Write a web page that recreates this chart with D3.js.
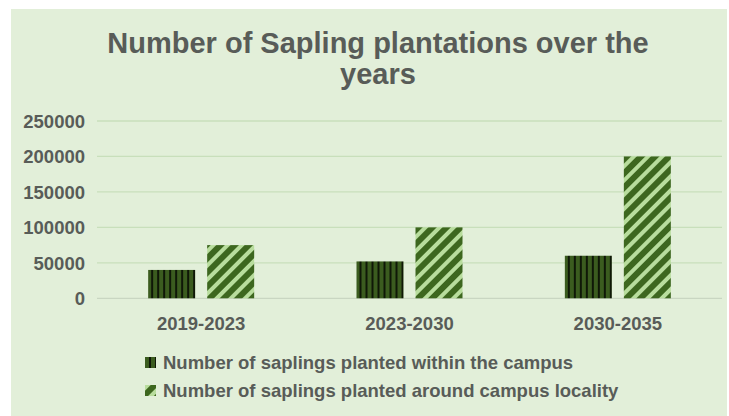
<!DOCTYPE html>
<html>
<head>
<meta charset="utf-8">
<script src="https://cdn.jsdelivr.net/npm/d3@7/dist/d3.min.js"></script>
<style>
  html, body { margin: 0; padding: 0; background: #ffffff; }
  svg { display: block; }
  text { font-family: "Liberation Sans", Arial, sans-serif; }
</style>
</head>
<body>
<svg id="chart" width="729" height="416"></svg>
<script>
// Sapling plantation counts per period
const categories = ["2019-2023", "2023-2030", "2030-2035"];
const withinCampus = [40000, 52000, 60000];
const aroundLocality = [75000, 100000, 200000];
const seriesNames = [
  "Number of saplings planted within the campus",
  "Number of saplings planted around campus locality"
];
const yTicks = [0, 50000, 100000, 150000, 200000, 250000];
const titleLines = ["Number of Sapling plantations over the", "years"];

const W = 729, H = 416;
const textColor = "#585c58";
const svg = d3.select("#chart");
const defs = svg.append("defs");

// Vertical black stripes over dark green
const pv = defs.append("pattern")
  .attr("id", "vstripe").attr("patternUnits", "userSpaceOnUse")
  .attr("width", 6).attr("height", 6);
pv.append("rect").attr("width", 6).attr("height", 6).attr("fill", "#3b5c1f");
pv.append("rect").attr("x", 4).attr("width", 2).attr("height", 6).attr("fill", "#0f1807");

// Wide upward diagonal, dark green with light green bands
const pd = defs.append("pattern")
  .attr("id", "dstripe").attr("patternUnits", "userSpaceOnUse")
  .attr("width", 10).attr("height", 10)
  .attr("patternTransform", "rotate(45)");
pd.append("rect").attr("width", 10).attr("height", 10).attr("fill", "#3d671f");
pd.append("rect").attr("width", 4).attr("height", 10).attr("fill", "#b8dd9d");

// Panel background
svg.append("rect").attr("x", 11).attr("y", 9).attr("width", W - 13).attr("height", H - 9)
  .attr("fill", "#e2efd9");

// Title
svg.append("g").selectAll("text").data(titleLines).join("text")
  .attr("x", 378).attr("y", (d, i) => 53 + i * 31)
  .attr("text-anchor", "middle")
  .attr("font-size", 29).attr("font-weight", "bold")
  .attr("fill", textColor)
  .text(d => d);

const x0 = d3.scaleBand().domain(categories).range([97, 722]);
const y = d3.scaleLinear().domain([0, 250000]).range([298.3, 121]);

// Gridlines
svg.append("g").selectAll("line").data(yTicks).join("line")
  .attr("x1", 97).attr("x2", 722)
  .attr("y1", d => y(d)).attr("y2", d => y(d))
  .attr("stroke", d => d === 0 ? "#c9d6c2" : "#c8dfbb")
  .attr("stroke-width", 1.3);

// Y axis labels
const yAxis = d3.axisLeft(y).tickValues(yTicks).tickSize(0).tickPadding(0)
  .tickFormat(d3.format("d"));
const gy = svg.append("g").attr("transform", "translate(85,0)").call(yAxis);
gy.select(".domain").remove();
gy.selectAll("text")
  .attr("font-size", 18.5).attr("font-weight", "bold")
  .attr("fill", textColor).attr("font-family", "'Liberation Sans', Arial, sans-serif")
  .attr("dy", "0.35em");

// X axis labels
const xAxis = d3.axisBottom(x0).tickSize(0).tickPadding(0);
const gx = svg.append("g").attr("transform", "translate(0,330)").call(xAxis);
gx.select(".domain").remove();
gx.selectAll("text")
  .attr("font-size", 18.5).attr("font-weight", "bold")
  .attr("fill", textColor).attr("font-family", "'Liberation Sans', Arial, sans-serif")
  .attr("dy", 0);

// Bars
const barW = 47, gap = 12;
const rows = categories.map((c, i) => ({ cat: c, vals: [withinCampus[i], aroundLocality[i]] }));
const fills = ["url(#vstripe)", "url(#dstripe)"];
const groups = svg.append("g").selectAll("g").data(rows).join("g")
  .attr("transform", d => `translate(${x0(d.cat) + x0.bandwidth() / 2},0)`);
groups.selectAll("rect").data(d => d.vals).join("rect")
  .attr("x", (d, j) => j === 0 ? -(barW + gap / 2) : gap / 2)
  .attr("width", barW)
  .attr("y", d => y(d))
  .attr("height", d => y(0) - y(d))
  .attr("fill", (d, j) => fills[j]);

// Legend
const leg = svg.append("g").selectAll("g").data(seriesNames).join("g")
  .attr("transform", (d, i) => `translate(145,${357 + i * 28})`);
leg.append("rect").attr("width", 11).attr("height", 11)
  .attr("fill", (d, i) => fills[i]);
leg.append("text").attr("x", 18).attr("y", 12)
  .attr("font-size", 18.5).attr("font-weight", "bold")
  .attr("fill", textColor)
  .text(d => d);
</script>
</body>
</html>
